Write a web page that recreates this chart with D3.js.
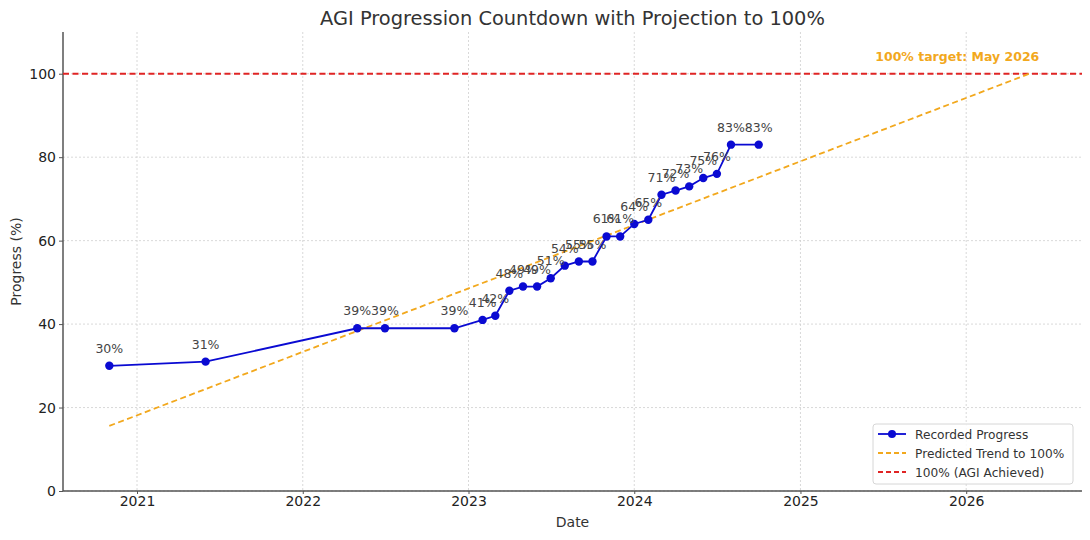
<!DOCTYPE html>
<html>
<head>
<meta charset="utf-8">
<script src="https://cdn.jsdelivr.net/npm/d3@7"></script>
<style>
  body { margin: 0; background: #fff; }
  svg { font-family: "DejaVu Sans", sans-serif; }
</style>
</head>
<body>
<svg id="chart" width="1090" height="540"></svg>
<script>
// ===== Data =====
const recordedDates = [
  "2020-11-01", "2021-06-01", "2022-05-01", "2022-07-01", "2022-12-01",
  "2023-02-01", "2023-03-01", "2023-04-01", "2023-05-01", "2023-06-01",
  "2023-07-01", "2023-08-01", "2023-09-01", "2023-10-01", "2023-11-01",
  "2023-12-01", "2024-01-01", "2024-02-01", "2024-03-01", "2024-04-01",
  "2024-05-01", "2024-06-01", "2024-07-01", "2024-08-01", "2024-10-01"
];
const recordedValues = [
  30, 31, 39, 39, 39,
  41, 42, 48, 49, 49,
  51, 54, 55, 55, 61,
  61, 64, 65, 71, 72,
  73, 75, 76, 83, 83
];
const trendDates  = ["2020-11-01", "2026-05-20"];
const trendValues = [15.6, 100];
const targetValue = 100;
const targetLabel = "100% target: May 2026";
const xTickYears  = [2021, 2022, 2023, 2024, 2025, 2026];
const yTicks      = [0, 20, 40, 60, 80, 100];
const legendLabels = ["Recorded Progress", "Predicted Trend to 100%", "100% (AGI Achieved)"];

// ===== Setup =====
const parse = d3.utcParse("%Y-%m-%d");
const svg = d3.select("#chart");

const cBlue   = "#0a0ad2";
const cOrange = "#f2a81d";
const cRed    = "#e02424";
const cText   = "#333";
const cGrid   = "#cfcfcf";

const plot = { left: 63, right: 1082, top: 32, bottom: 491 };

const x = d3.scaleUtc()
  .domain([parse("2020-07-22"), parse("2026-09-13")])
  .range([plot.left, plot.right]);
const y = d3.scaleLinear().domain([0, 110]).range([plot.bottom, plot.top]);

const recorded = recordedDates.map((d, i) => ({ date: parse(d), value: recordedValues[i] }));
const trend = trendDates.map((d, i) => ({ date: parse(d), value: trendValues[i] }));
const xTickDates = xTickYears.map(yr => new Date(Date.UTC(yr, 0, 1)));

// grid
const grid = svg.append("g");
grid.selectAll(".gx").data(xTickDates).join("line")
  .attr("x1", d => x(d)).attr("x2", d => x(d))
  .attr("y1", plot.top).attr("y2", plot.bottom)
  .attr("stroke", cGrid).attr("stroke-width", 0.8).attr("stroke-dasharray", "2,2");
grid.selectAll(".gy").data(yTicks).join("line")
  .attr("x1", plot.left).attr("x2", plot.right)
  .attr("y1", d => y(d)).attr("y2", d => y(d))
  .attr("stroke", cGrid).attr("stroke-width", 0.8).attr("stroke-dasharray", "2,2");

// axes
const xAxis = svg.append("g").attr("transform", `translate(0,${plot.bottom})`)
  .call(d3.axisBottom(x).tickValues(xTickDates).tickFormat(d3.utcFormat("%Y")).tickSize(3).tickPadding(2));
const yAxis = svg.append("g").attr("transform", `translate(${plot.left},0)`)
  .call(d3.axisLeft(y).tickValues(yTicks).tickSize(4).tickPadding(3));
xAxis.select(".domain").attr("d", `M${plot.left},0H${plot.right}`);
yAxis.select(".domain").attr("d", `M0,${plot.top}V${plot.bottom}`);
[xAxis, yAxis].forEach(a => {
  a.select(".domain").attr("stroke", "#555").attr("stroke-width", 1.5);
  a.selectAll(".tick line").attr("stroke", "#555");
  a.selectAll(".tick text").attr("fill", "#222").attr("font-size", 14)
    .attr("font-family", "DejaVu Sans, sans-serif");
});

// target line
svg.append("line")
  .attr("x1", plot.left).attr("x2", plot.right)
  .attr("y1", y(targetValue)).attr("y2", y(targetValue))
  .attr("stroke", cRed).attr("stroke-width", 1.8).attr("stroke-dasharray", "6,3.5");

// trend line
svg.append("path").datum(trend)
  .attr("d", d3.line().x(d => x(d.date)).y(d => y(d.value)))
  .attr("fill", "none").attr("stroke", cOrange).attr("stroke-width", 1.8)
  .attr("stroke-dasharray", "6,3.5");

// recorded line + points
svg.append("path").datum(recorded)
  .attr("d", d3.line().x(d => x(d.date)).y(d => y(d.value)))
  .attr("fill", "none").attr("stroke", cBlue).attr("stroke-width", 1.8);
svg.selectAll(".pt").data(recorded).join("circle")
  .attr("cx", d => x(d.date)).attr("cy", d => y(d.value)).attr("r", 4.2)
  .attr("fill", cBlue);

// point labels
svg.selectAll(".lbl").data(recorded).join("text")
  .attr("x", d => x(d.date)).attr("y", d => y(d.value) - 13)
  .attr("text-anchor", "middle").attr("font-size", 12.5).attr("fill", "#444")
  .text(d => `${d.value}%`);

// target annotation
svg.append("text")
  .attr("x", x(parse("2026-05-20")) + 10).attr("y", y(targetValue) - 13)
  .attr("text-anchor", "end").attr("font-size", 12.5).attr("font-weight", "bold")
  .attr("fill", cOrange).text(targetLabel);

// titles
svg.append("text").attr("x", (plot.left + plot.right) / 2).attr("y", 25)
  .attr("text-anchor", "middle").attr("font-size", 19.4).attr("fill", cText)
  .text("AGI Progression Countdown with Projection to 100%");
svg.append("text").attr("x", (plot.left + plot.right) / 2).attr("y", 527)
  .attr("text-anchor", "middle").attr("font-size", 14).attr("fill", cText).text("Date");
svg.append("text")
  .attr("transform", `translate(21,${(plot.top + plot.bottom) / 2}) rotate(-90)`)
  .attr("text-anchor", "middle").attr("font-size", 14).attr("fill", cText).text("Progress (%)");

// legend
const lg = svg.append("g").attr("transform", "translate(873,424)");
lg.append("rect").attr("width", 200).attr("height", 60).attr("rx", 3)
  .attr("fill", "#fff").attr("fill-opacity", 0.85).attr("stroke", "#d6d6d6");
const legendStyles = [
  { color: cBlue, dash: null, marker: true },
  { color: cOrange, dash: "5,3", marker: false },
  { color: cRed, dash: "5,3", marker: false }
];
legendLabels.forEach((label, i) => {
  const yy = 10 + i * 19;
  const s = legendStyles[i];
  lg.append("line").attr("x1", 5).attr("x2", 33).attr("y1", yy).attr("y2", yy)
    .attr("stroke", s.color).attr("stroke-width", 1.8)
    .attr("stroke-dasharray", s.dash);
  if (s.marker) lg.append("circle").attr("cx", 19).attr("cy", yy).attr("r", 4).attr("fill", s.color);
  lg.append("text").attr("x", 42).attr("y", yy + 4.5).attr("font-size", 12.2)
    .attr("fill", cText).text(label);
});
</script>
</body>
</html>
